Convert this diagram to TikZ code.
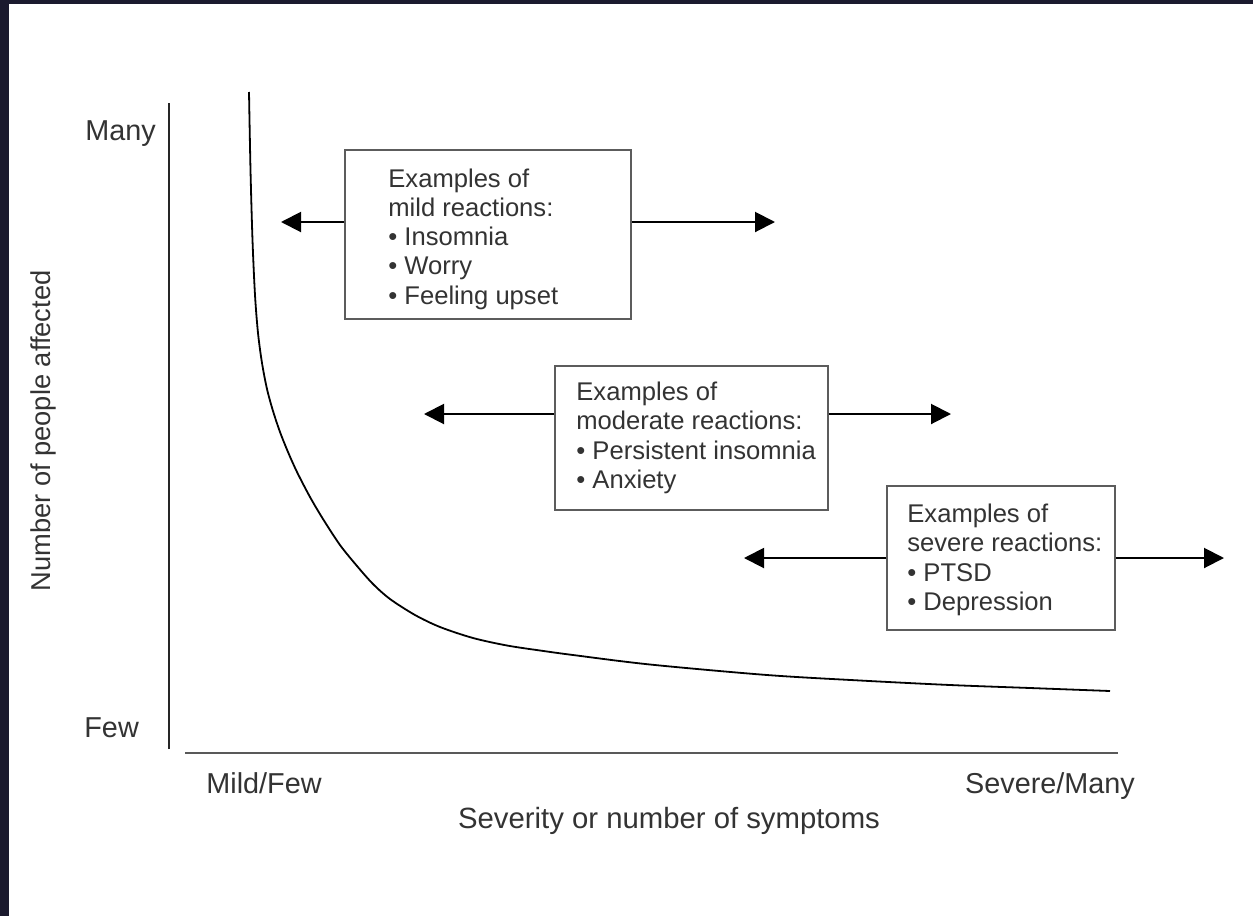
\documentclass[tikz,border=0pt]{standalone}
\usepackage{fontspec}
\setmainfont{Liberation Sans}
\usepackage{tikz}
\usetikzlibrary{positioning, arrows.meta}
\definecolor{darkframe}{HTML}{1B1A2E}
\definecolor{txtgray}{HTML}{333333}
\definecolor{boxgray}{HTML}{5C5C5C}
\tikzstyle{bx}=[%
      rectangle, draw=boxgray, line width=1.6pt, fill=white, inner sep=0pt
]
\tikzstyle{tx}=[%
      text=txtgray, align=left, inner sep=0pt, font=\fontsize{25.6}{29.3}\selectfont
]
\tikzstyle{ax}=[%
      text=txtgray, inner sep=0pt, font=\fontsize{28.8}{34}\selectfont
]
\tikzstyle{ar}=[%
      ->, line width=2pt
]

\begin{document}
\begin{tikzpicture}[x=1pt, y=-1pt,
    >={Triangle[length=20pt,width=20pt]}
  ]
    \useasboundingbox (0,0) rectangle (1253,916);
    \fill[white] (0,0) rectangle (1253,916);
    \fill[darkframe] (0,0) rectangle (1253,4);
    \fill[darkframe] (0,0) rectangle (9,916);

    \coordinate (ytop) at (169,103);
    \coordinate (ybot) at (169,749);
    \coordinate (xbeg) at (185,753);
    \coordinate (xend) at (1118,753);
    \draw[line width=2.2pt, black!85] (ybot) -- (ytop);
    \draw[line width=2.6pt, black!65] (xbeg) -- (xend);

    \draw[line width=1.8pt] plot[smooth, tension=0.5] coordinates {(249,92) (250.5,170)
      (252.5,240) (255,295) (258,333) (262,363) (267,389) (273,411) (280,432)
      (288,452) (297,472) (310,497) (323,519) (340,545) (357,566) (373,584)
      (390,599) (415,615) (440,627) (473,638) (507,645.5) (540,650.5) (573,655)
      (650,664.5) (767,675) (860,680.5) (950,685) (1030,688) (1110,691)};

    \node[ax, anchor=base east] (many) at (156,140) {Many};
    \node[ax, anchor=base east] (few) at (139,737) {Few};
    \node[ax, anchor=base] (mildfew) at (264,793) {Mild/Few};
    \node[ax, anchor=base] (sevmany) at (1050,793) {Severe/Many};
    \node[ax, anchor=base, font=\fontsize{29.3}{34}\selectfont] (xlab) at (669,828)
      {Severity or number of symptoms};
    \node[ax, anchor=base, rotate=90, font=\fontsize{27.3}{32}\selectfont] (ylab) at (50,431)
      {Number of people affected};

    \node[bx, minimum width=286pt, minimum height=169pt] (mild) at (488,234.5) {};
    \node[tx, right=44pt of mild.west, yshift=-4.5pt] (mildtx)
      {Examples of\\mild reactions:\\\textbullet\ Insomnia\\\textbullet\ Worry\\\textbullet\ Feeling upset};
    \node[bx, minimum width=273pt, minimum height=144pt] (mod) at (691.5,438) {};
    \node[tx, right=22pt of mod.west] (modtx)
      {Examples of\\moderate reactions:\\\textbullet\ Persistent insomnia\\\textbullet\ Anxiety};
    \node[bx, minimum width=228pt, minimum height=144pt] (sev) at (1001,558) {};
    \node[tx, right=21pt of sev.west, yshift=-2pt] (sevtx)
      {Examples of\\severe reactions:\\\textbullet\ PTSD\\\textbullet\ Depression};

    \coordinate (mildL) at (281,222);
    \coordinate (mildR) at (775,222);
    \coordinate (modL) at (424,414);
    \coordinate (modR) at (951,414);
    \coordinate (sevL) at (744,558);
    \coordinate (sevR) at (1224,558);

    \path[ar] (mild.west |- mildL) edge (mildL)
          (mild.east |- mildR) edge (mildR)
          (mod.west |- modL) edge (modL)
          (mod.east |- modR) edge (modR)
          (sev.west |- sevL) edge (sevL)
          (sev.east |- sevR) edge (sevR)
    ;
\end{tikzpicture}
\end{document}
